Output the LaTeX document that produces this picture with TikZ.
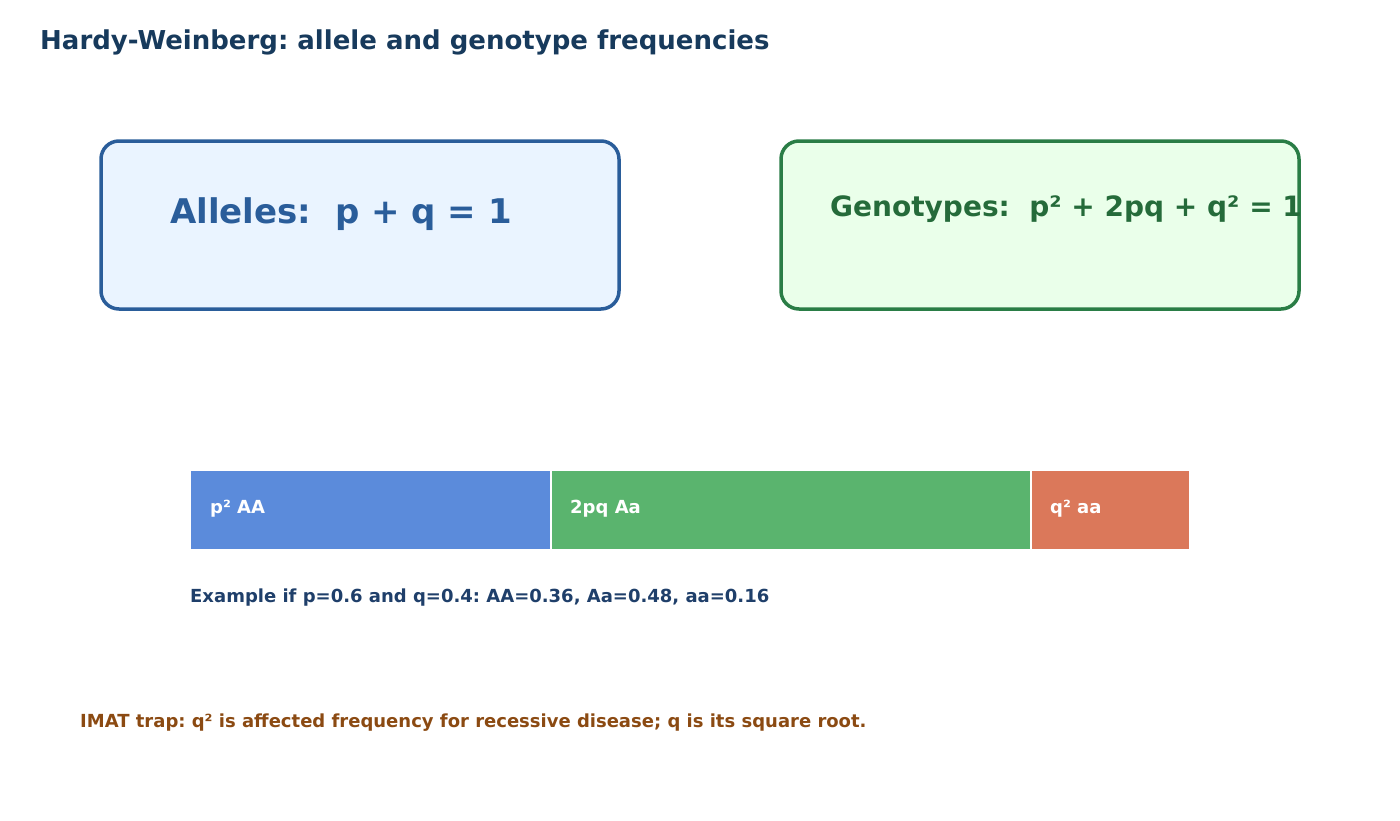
\documentclass[tikz,border=0pt]{standalone}
\usepackage{fontspec}
\setmainfont{DejaVu Sans}
\frenchspacing
\definecolor{titlec}{HTML}{173A5C}
\definecolor{bluec}{HTML}{2A5D9A}
\definecolor{bluef}{HTML}{EAF4FF}
\definecolor{greenc}{HTML}{2A7D46}
\definecolor{greent}{HTML}{256B3A}
\definecolor{greenf}{HTML}{EAFFEA}
\definecolor{barb}{HTML}{5B8BDB}
\definecolor{barg}{HTML}{5AB46E}
\definecolor{baro}{HTML}{DB785A}
\definecolor{exc}{HTML}{1F3F6A}
\definecolor{trapc}{HTML}{8B4A12}
\begin{document}
\begin{tikzpicture}[x=1pt,y=-1pt,
  txt/.style={anchor=base west,inner sep=0pt,font=\bfseries},
  small/.style={txt,font=\bfseries\fontsize{18}{22}\selectfont},
  card/.style={line width=3.5pt,rounded corners=18pt}]
\useasboundingbox (0,0) rectangle (1400,820);
\node[txt,text=titlec,font=\bfseries\fontsize{26}{31}\selectfont] (title) at (40,49) {Hardy-Weinberg: allele and genotype frequencies};
\draw[card,draw=bluec,fill=bluef] (101,141) rectangle (619,309);
\node[txt,text=bluec,font=\bfseries\fontsize{34}{40}\selectfont] (alle) at (170,223) {Alleles:\ \ p + q = 1};
\draw[card,draw=greenc,fill=greenf] (781,141) rectangle (1299,309);
\node[txt,text=greent,font=\bfseries\fontsize{28}{33}\selectfont] (geno) at (830,216) {Genotypes:\ \ p² + 2pq + q² = 1};
\fill[barb] (191,471) rectangle (549.5,549);
\fill[barg] (551.5,471) rectangle (1029.5,549);
\fill[baro] (1031.5,471) rectangle (1189,549);
\node[small,text=white] (pAA) at (210,513) {p² AA};
\node[small,text=white] (pqAa) at (570,513) {2pq Aa};
\node[small,text=white] (qaa) at (1050,513) {q² aa};
\node[small,text=exc] (ex) at (190,602) {Example if p=0.6 and q=0.4: AA=0.36, Aa=0.48, aa=0.16};
\node[small,text=trapc] (trap) at (80,727) {IMAT trap: q² is affected frequency for recessive disease; q is its square root.};
\end{tikzpicture}
\end{document}
